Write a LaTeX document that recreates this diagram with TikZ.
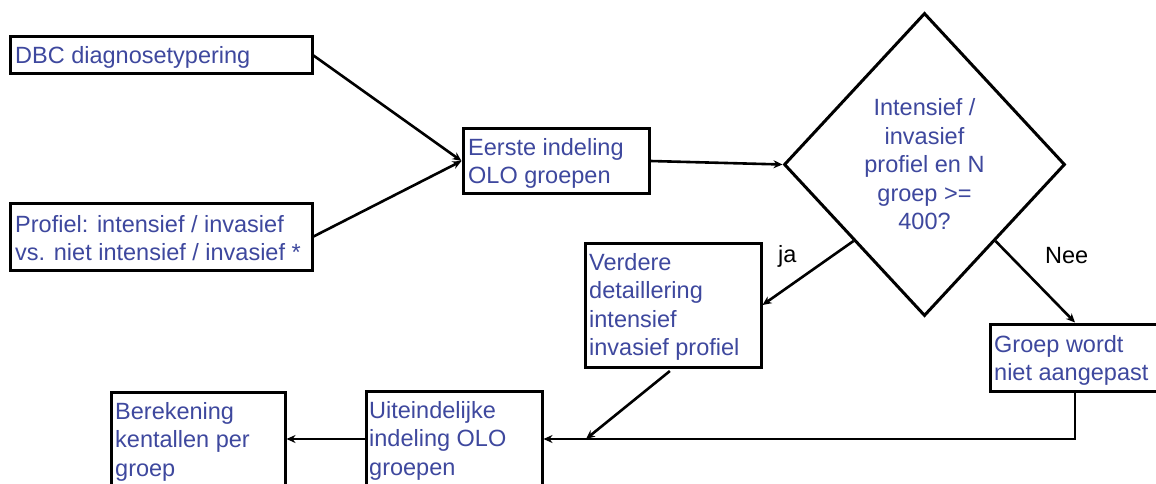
\documentclass[tikz,border=0pt]{standalone}
\usepackage{fontspec}
\setmainfont{Liberation Sans}
\usetikzlibrary{shapes.geometric,arrows.meta}
\definecolor{txtblue}{RGB}{62,72,158}
\begin{document}
\begin{tikzpicture}[x=1pt,y=-1pt,
  box/.style={draw=black, line width=3pt, rectangle, inner sep=0pt},
  txt/.style={text=txtblue, inner sep=0pt, anchor=north west, align=left,
    font=\fontsize{23.5}{28.5}\selectfont},
  lbl/.style={text=black, inner sep=0pt, anchor=base west,
    font=\fontsize{23.5}{28.5}\selectfont},
  decision/.style={draw=black, line width=3pt, diamond, inner sep=0pt,
    text=txtblue, align=center, font=\fontsize{23.5}{28.5}\selectfont},
  conn/.style={draw=black, line width=2.6pt, -{Stealth[length=9pt,width=8pt]}}]
\useasboundingbox (0,0) rectangle (1156,484);
\fill[white] (0,0) rectangle (1156,484);

% boxes
\node[box, minimum width=302pt, minimum height=37pt] (dbc) at (161,55.5) {};
\node[box, minimum width=302pt, minimum height=67pt] (prof) at (161,236.5) {};
\node[box, minimum width=186pt, minimum height=64pt] (eerste) at (556,161) {};
\node[decision, minimum width=281pt, minimum height=303pt] (dia) at (924.5,164.5)
  {Intensief /\\invasief\\profiel en N\\groep >=\\400?};
\node[box, minimum width=176pt, minimum height=124pt] (verd) at (673,305) {};
\node[box, minimum width=170pt, minimum height=67pt] (groep) at (1075,357.5) {};
\node[box, minimum width=176pt, minimum height=96pt] (uit) at (454,439) {};
\node[box, minimum width=174pt, minimum height=94pt] (ber) at (198,439) {};

% texts
\node[txt] (dbct) at (15,46) {DBC diagnosetypering};
\node[txt] (proft) at (15,215) {Profiel: intensief / invasief\\vs. niet intensief / invasief *};
\node[txt] (eerstet) at (468,138) {Eerste indeling\\OLO groepen};
\node[txt] (verdt) at (589,253) {Verdere\\detaillering\\intensief\\invasief profiel};
\node[txt] (groept) at (994,335) {Groep wordt\\niet aangepast};
\node[txt] (uitt) at (369,401) {Uiteindelijke\\indeling OLO\\groepen};
\node[txt] (bert) at (115,402) {Berekening\\kentallen per\\groep};

% labels
\node[lbl] (ja) at (778,262) {ja};
\node[lbl] (nee) at (1045,263) {Nee};

% connectors
\coordinate (join) at (586,439);
\draw[conn] (dbc.east) -- (eerste.west);
\draw[conn] (prof.east) -- (eerste.west);
\draw[conn] (eerste.east) -- (dia.west);
\draw[conn] (dia.south west) -- (verd.east);
\draw[conn] (dia.south east) -- (groep.north);
\draw[conn] (groep.south) |- (uit.east);
\draw[conn, shorten <=4pt] (verd.south) -- (join);
\draw[conn] (uit.west) -- (ber.east);
\end{tikzpicture}
\end{document}
